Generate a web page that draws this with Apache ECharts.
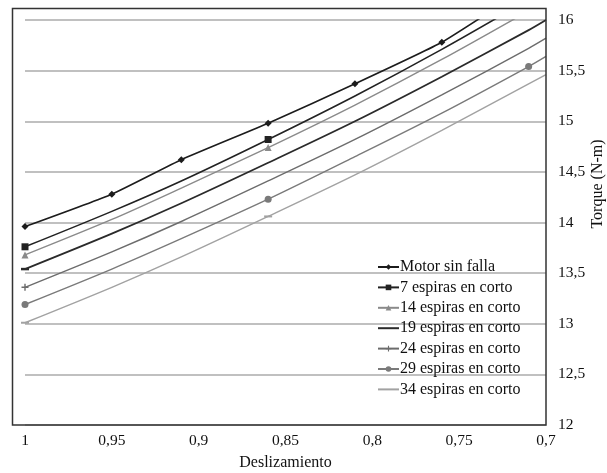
<!DOCTYPE html>
<html>
<head>
<meta charset="utf-8">
<script src="https://cdn.jsdelivr.net/npm/echarts@6/dist/echarts.min.js"></script>
<style>
html,body{margin:0;padding:0;background:#fff;overflow:hidden;}
#chart{width:607px;height:473px;}
</style>
</head>
<body>
<div id="chart"></div>
<script>
// Slip (x) values and torque readings (N-m)
const xs = [1, 0.95, 0.91, 0.86, 0.81, 0.76, 0.71, 0.70];
const motor = [13.96, 14.28, 14.62, 14.98, 15.37, 15.78, 16.33, 16.44];
const esp7  = [13.76, 14.11, 14.41, 14.82, 15.25, 15.71, 16.20, 16.30];
const esp14 = [13.68, 14.03, 14.34, 14.74, 15.16, 15.61, 16.09, 16.19];
const esp19 = [13.54, 13.89, 14.19, 14.59, 15.00, 15.44, 15.90, 16.00];
const esp24 = [13.36, 13.71, 14.01, 14.41, 14.82, 15.26, 15.72, 15.82];
const esp29 = [13.19, 13.54, 13.84, 14.23, 14.65, 15.08, 15.54, 15.64];
const esp34 = [13.01, 13.36, 13.66, 14.06, 14.47, 14.91, 15.37, 15.46];

const seriesNames = ['Motor sin falla', '7 espiras en corto', '14 espiras en corto',
  '19 espiras en corto', '24 espiras en corto', '29 espiras en corto', '34 espiras en corto'];
const markerIdx = [[0,1,2,3,4,5,6],[0,3],[0,3],[0],[0],[0,3,6],[0,3]];

const xTicks = ['1', '0,95', '0,9', '0,85', '0,8', '0,75', '0,7'];
const yTicks = ['12', '12,5', '13', '13,5', '14', '14,5', '15', '15,5', '16'];

const FONT = "'Liberation Serif', 'Times New Roman', serif";
const DASH = 'path://M0,0H10V3H0Z';
const PLUS = 'path://M4,0H6V4H10V6H6V10H4V6H0V4H4Z';
const styles = [
  {color:'#1c1c1c', symbol:'diamond', size:7, width:1.6, legendMark:true, smooth:0.15},
  {color:'#222222', symbol:'rect', size:7, width:1.6, legendMark:true, smooth:0.3},
  {color:'#8a8a8a', symbol:'triangle', size:7, width:1.4, legendMark:true, smooth:0.3},
  {color:'#2a2a2a', symbol:DASH, size:[8,2.5], width:1.8, legendMark:false, smooth:0.3},
  {color:'#6c6c6c', symbol:PLUS, size:7, width:1.4, legendMark:true, smooth:0.3},
  {color:'#7a7a7a', symbol:'circle', size:7, width:1.4, legendMark:true, smooth:0.3},
  {color:'#a2a2a2', symbol:DASH, size:[8,2], width:1.4, legendMark:false, smooth:0.3}
];
const allY = [motor, esp7, esp14, esp19, esp24, esp29, esp34];

const series = allY.map((ys, si) => ({
  name: seriesNames[si],
  type: 'line',
  smooth: styles[si].smooth,
  clip: true,
  symbol: styles[si].symbol,
  symbolSize: styles[si].size,
  symbolKeepAspect: false,
  showAllSymbol: true,
  lineStyle: {color: styles[si].color, width: styles[si].width},
  itemStyle: {color: styles[si].color},
  emphasis: {disabled: true},
  data: xs.map((x, i) => {
    const d = {value: [x, ys[i]]};
    if (markerIdx[si].indexOf(i) < 0) d.symbol = 'none';
    return d;
  })
}));

const legendData = seriesNames.map((n, si) =>
  styles[si].legendMark ? {name: n} : {name: n, itemStyle: {opacity: 0}});

const chart = echarts.init(document.getElementById('chart'), null, {renderer: 'canvas', width: 607, height: 473});
chart.setOption({
  animation: false,
  backgroundColor: '#ffffff',
  grid: {left: 25, top: 20, width: 521, height: 405, containLabel: false, outerBoundsMode: 'none'},
  xAxis: {
    type: 'value', inverse: true, min: 0.7, max: 1, interval: 0.05,
    axisLine: {show: false}, axisTick: {show: false}, splitLine: {show: false},
    axisLabel: {
      margin: 8, color: '#111', fontFamily: FONT, fontSize: 15.5,
      formatter: v => xTicks[Math.round((1 - v) / 0.05)]
    },
    name: 'Deslizamiento', nameLocation: 'middle', nameGap: 30,
    nameTextStyle: {color: '#111', fontFamily: FONT, fontSize: 16}
  },
  yAxis: {
    type: 'value', position: 'right', min: 12, max: 16, interval: 0.5,
    axisLine: {show: false}, axisTick: {show: false},
    splitLine: {show: true, lineStyle: {color: '#ababab', width: 1.6}},
    axisLabel: {
      margin: 12, color: '#111', fontFamily: FONT, fontSize: 15.5,
      formatter: v => yTicks[Math.round((v - 12) / 0.5)]
    }
  },
  legend: {
    orient: 'vertical', left: 377, top: 259, padding: 0,
    itemWidth: 21, itemHeight: 7, itemGap: 4.4,
    data: legendData,
    textStyle: {color: '#111', fontFamily: FONT, fontSize: 16, lineHeight: 16, padding: [0,0,0,-4]},
    selectedMode: false
  },
  series: series
});

// Frame around the plot area, aligned to the axes via the library's own scale
const pBR = chart.convertToPixel({gridIndex: 0}, [0.7, 12]);
const pTop = chart.convertToPixel({gridIndex: 0}, [1, 16]);
const frameLeft = 12.5, frameTop = pTop[1] - 11.5;
chart.setOption({
  graphic: [
    {type: 'rect', z: 100, silent: true,
     shape: {x: frameLeft, y: frameTop, width: pBR[0] - frameLeft, height: pBR[1] - frameTop},
     style: {fill: 'none', stroke: '#333', lineWidth: 1.5}},
    {type: 'text', z: 100, silent: true, x: 598, y: 184, rotation: Math.PI / 2,
     style: {text: 'Torque (N-m)', fill: '#111', font: "16px 'Liberation Serif', serif",
             align: 'center', verticalAlign: 'middle'}}
  ]
});
</script>
</body>
</html>
